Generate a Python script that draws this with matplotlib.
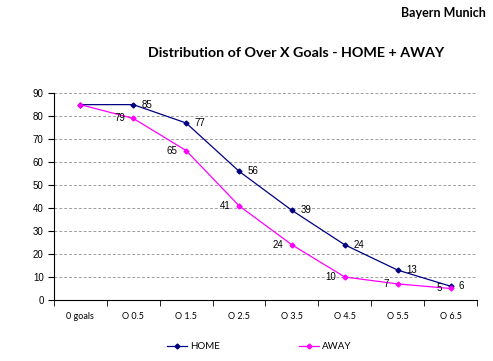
import numpy as np
import matplotlib.pyplot as plt

categories = ["0 goals", "O 0.5", "O 1.5", "O 2.5", "O 3.5", "O 4.5", "O 5.5", "O 6.5"]
home = [85, 85, 77, 56, 39, 24, 13, 6]
away = [85, 79, 65, 41, 24, 10, 7, 5]

fig = plt.figure(figsize=(4.93, 3.61), dpi=100)
ax = fig.add_axes([0.1095, 0.169, 0.858, 0.573])

x = np.arange(len(categories))
ax.plot(x, home, color="#000080", lw=0.9, marker="D", ms=2.5, label="HOME")
ax.plot(x, away, color="#FF00FF", lw=0.9, marker="D", ms=2.5, label="AWAY")

for i in range(1, len(x)):
    ax.annotate(str(home[i]), (x[i], home[i]), xytext=(6, 0), textcoords="offset points",
                ha="left", va="center", fontsize=7, family="Liberation Sans")
    ax.annotate(str(away[i]), (x[i], away[i]), xytext=(-6, 0), textcoords="offset points",
                ha="right", va="center", fontsize=7, family="Liberation Sans")

ax.set_xlim(-0.5, len(categories) - 0.5)
ax.set_ylim(0, 90)
ax.set_yticks(range(0, 91, 10))
ax.set_xticks(x)
ax.set_xticklabels(categories, fontsize=6.5, family="Lato")
ax.set_xticks(np.arange(-0.5, len(categories)), minor=True)
ax.tick_params(axis="x", which="major", length=0, pad=9)
ax.tick_params(axis="x", which="minor", length=4, direction="out")
ax.tick_params(axis="y", length=4, direction="out", labelsize=7)
for lab in ax.get_yticklabels():
    lab.set_family("Liberation Sans")

ax.yaxis.grid(True, ls=(0, (3, 2)), color="#a0a0a0", lw=0.7)
ax.set_axisbelow(True)
for s in ["top", "right"]:
    ax.spines[s].set_visible(False)
ax.spines["left"].set_linewidth(0.8)
ax.spines["bottom"].set_linewidth(0.8)

leg = ax.legend(loc="center", bbox_to_anchor=(0.485, -0.225), ncol=2, frameon=False,
                handlelength=2.0, handletextpad=0.3, columnspacing=8.2,
                prop={"family": "Lato", "size": 7})

fig.text(0.6, 0.853, "Distribution of Over X Goals - HOME + AWAY", ha="center", va="center",
         fontsize=10.3, fontweight="bold", family="Lato")
fig.text(0.985, 0.963, "Bayern Munich", ha="right", va="center",
         fontsize=9, fontweight="bold", family="Lato")

fig.savefig("out.png", dpi=100)
